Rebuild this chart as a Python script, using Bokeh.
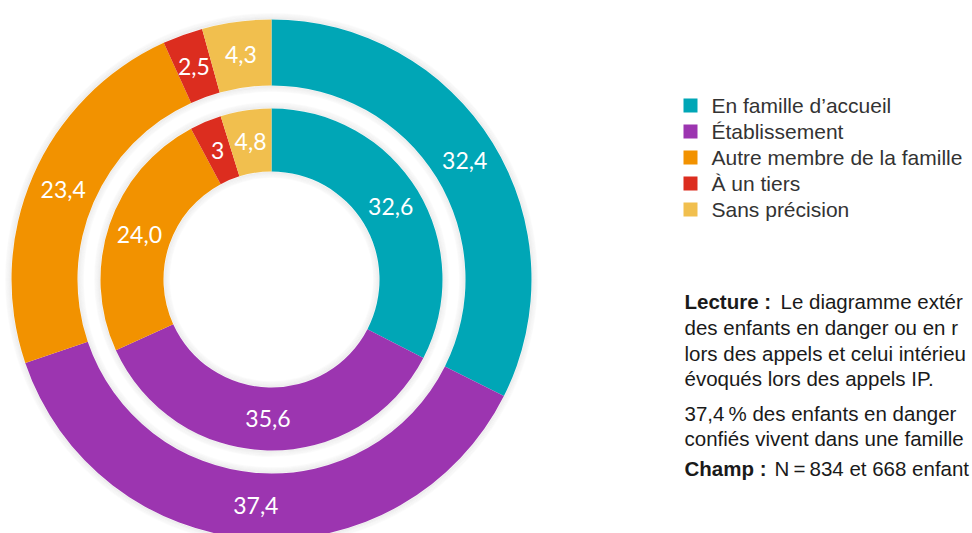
import numpy as np
from bokeh.plotting import figure
from bokeh.models import ColumnDataSource, Range1d
from bokeh.core.properties import value
from bokeh.embed import file_html
from bokeh.resources import INLINE

# ---- data ----
categories = ["En famille d\u2019accueil", "\u00c9tablissement", "Autre membre de la famille",
              "\u00c0 un tiers", "Sans pr\u00e9cision"]
outer_values = [32.4, 37.4, 23.4, 2.5, 4.3]
inner_values = [32.6, 35.6, 24.0, 3.0, 4.8]
outer_labels = ["32,4", "37,4", "23,4", "2,5", "4,3"]
inner_labels = ["32,6", "35,6", "24,0", "3", "4,8"]
colors = ["#00A6B6", "#9C35B0", "#F29200", "#DC2D1F", "#F1BF4E"]

W, H = 972, 533
def X(px): return px
def Y(py): return H - py

p = figure(width=W, height=H, x_range=Range1d(0, W), y_range=Range1d(0, H),
           output_backend="svg", toolbar_location=None, min_border=0)
p.axis.visible = False
p.grid.visible = False
p.outline_line_color = None
p.background_fill_color = "white"
p.border_fill_color = "white"

cx, cy = X(271), Y(279)
R_OUT_O, R_OUT_I = 260, 194
R_IN_O, R_IN_I = 171, 108

# soft shadows around the rings
for k in range(6):
    a = 0.05 - k * 0.007
    p.annulus(x=cx, y=cy, inner_radius=R_OUT_O + k, outer_radius=R_OUT_O + k + 1.5,
              fill_color="#000000", fill_alpha=a, line_color=None)
    p.annulus(x=cx, y=cy, inner_radius=R_OUT_I - k - 1.5, outer_radius=R_OUT_I - k,
              fill_color="#000000", fill_alpha=a, line_color=None)
    p.annulus(x=cx, y=cy, inner_radius=R_IN_O + k, outer_radius=R_IN_O + k + 1.5,
              fill_color="#000000", fill_alpha=a, line_color=None)
    p.annulus(x=cx, y=cy, inner_radius=R_IN_I - k - 1.5, outer_radius=R_IN_I - k,
              fill_color="#000000", fill_alpha=a, line_color=None)

def ring(values, labels, r_in, r_out):
    v = np.array(values, dtype=float)
    frac = v / v.sum()
    cum = np.concatenate([[0], np.cumsum(frac)])
    start = np.pi / 2 - 2 * np.pi * cum[:-1]
    end = np.pi / 2 - 2 * np.pi * cum[1:]
    mid = (start + end) / 2
    rm = (r_in + r_out) / 2
    src = ColumnDataSource(dict(start=start, end=end, color=colors,
                                lx=cx + rm * np.cos(mid), ly=cy + rm * np.sin(mid),
                                label=labels))
    p.annular_wedge(x=cx, y=cy, inner_radius=r_in, outer_radius=r_out,
                    start_angle="start", end_angle="end", direction="clock",
                    fill_color="color", line_color=None, source=src)
    p.text(x="lx", y="ly", text="label", source=src, text_color="white",
           text_font=value("Lato"), text_font_size="23px",
           text_align="center", text_baseline="middle")

ring(outer_values, outer_labels, R_OUT_I, R_OUT_O)
ring(inner_values, inner_labels, R_IN_I, R_IN_O)

# ---- legend ----
leg_y = [Y(105 + 26 * i) for i in range(len(categories))]
p.scatter(x=[X(690)] * len(categories), y=leg_y, marker="square", size=14,
          fill_color=colors, line_color=None)
p.text(x=[X(711)] * len(categories), y=leg_y, text=categories, text_color="#333333",
       text_font=value("Liberation Sans"), text_font_size="21px",
       text_align="left", text_baseline="middle")

# ---- notes (text as visible in the reference, which is cut at its right edge) ----
font = value("Liberation Sans")
fs = "20.5px"
p.text(x=[X(684)], y=[Y(301)], text=["Lecture :"], text_color="#1a1a1a", text_font=font,
       text_font_size=fs, text_font_style="bold", text_baseline="middle")
p.text(x=[X(780)], y=[Y(301)], text=["Le diagramme ext\u00e9r"], text_color="#1a1a1a",
       text_font=font, text_font_size=fs, text_baseline="middle")
note_lines = ["des enfants en danger ou en r",
              "lors des appels et celui int\u00e9rieu",
              "\u00e9voqu\u00e9s lors des appels IP.",
              "37,4\u202f% des enfants en danger",
              "confi\u00e9s vivent dans une famille"]
note_y = [Y(327), Y(353), Y(378), Y(413), Y(438)]
p.text(x=[X(684)] * len(note_lines), y=note_y, text=note_lines, text_color="#1a1a1a",
       text_font=font, text_font_size=fs, text_baseline="middle")
p.text(x=[X(684)], y=[Y(468)], text=["Champ :"], text_color="#1a1a1a", text_font=font,
       text_font_size=fs, text_font_style="bold", text_baseline="middle")
p.text(x=[X(774)], y=[Y(468)], text=["N\u2009=\u2009834 et 668 enfant"], text_color="#1a1a1a",
       text_font=font, text_font_size=fs, text_baseline="middle")

open("out.html", "w").write(file_html(p, INLINE))
